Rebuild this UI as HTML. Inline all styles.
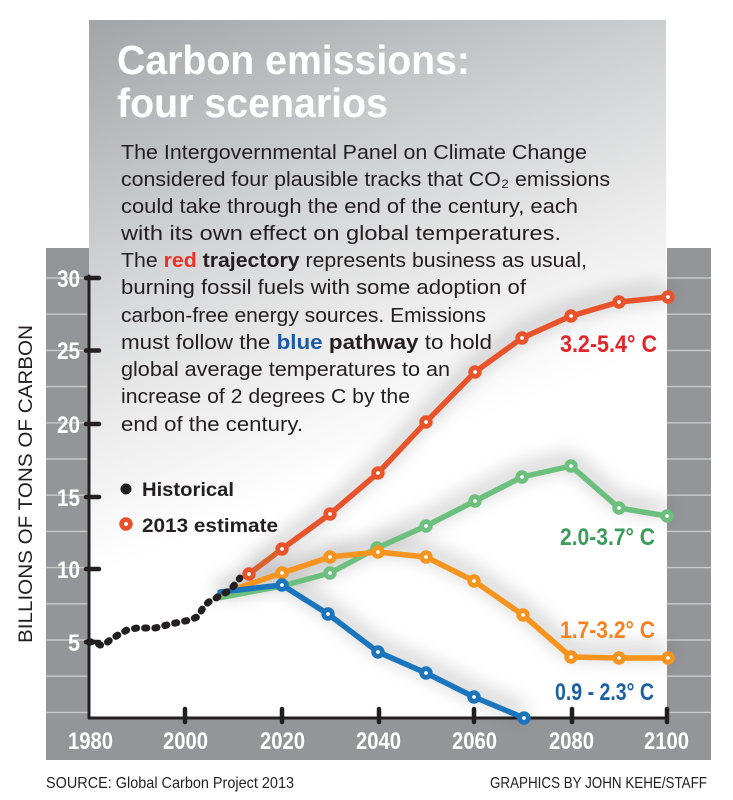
<!DOCTYPE html>
<html><head><meta charset="utf-8">
<style>
html,body{margin:0;padding:0;background:#fff;}
svg{display:block;}
text{font-family:"Liberation Sans",sans-serif;}
</style></head>
<body>
<svg width="733" height="800" viewBox="0 0 733 800" xmlns="http://www.w3.org/2000/svg">
<defs>
<linearGradient id="pg" gradientUnits="userSpaceOnUse" x1="89" y1="20" x2="330" y2="620">
<stop offset="0" stop-color="#a2a4a7"/>
<stop offset="0.35" stop-color="#cfd0d2"/>
<stop offset="0.6" stop-color="#ececec"/>
<stop offset="0.8" stop-color="#ffffff"/>
</linearGradient>
<filter id="sh" x="-30%" y="-30%" width="160%" height="160%"><feGaussianBlur stdDeviation="10"/></filter>
</defs>

<!-- frame -->
<rect x="46" y="248" width="665" height="512" fill="#939598"/>
<rect x="89" y="248" width="578" height="470" fill="#ffffff"/>
<!-- strip gridlines -->
<g stroke="#c9cacc" stroke-width="1.4">
<line x1="46" y1="278" x2="89" y2="278"/><line x1="667" y1="278" x2="711" y2="278"/>
<line x1="46" y1="314.2" x2="89" y2="314.2"/><line x1="667" y1="314.2" x2="711" y2="314.2"/>
<line x1="46" y1="350.4" x2="89" y2="350.4"/><line x1="667" y1="350.4" x2="711" y2="350.4"/>
<line x1="46" y1="386.6" x2="89" y2="386.6"/><line x1="667" y1="386.6" x2="711" y2="386.6"/>
<line x1="46" y1="422.8" x2="89" y2="422.8"/><line x1="667" y1="422.8" x2="711" y2="422.8"/>
<line x1="46" y1="459" x2="89" y2="459"/><line x1="667" y1="459" x2="711" y2="459"/>
<line x1="46" y1="495.2" x2="89" y2="495.2"/><line x1="667" y1="495.2" x2="711" y2="495.2"/>
<line x1="46" y1="531.4" x2="89" y2="531.4"/><line x1="667" y1="531.4" x2="711" y2="531.4"/>
<line x1="46" y1="567.6" x2="89" y2="567.6"/><line x1="667" y1="567.6" x2="711" y2="567.6"/>
<line x1="46" y1="603.8" x2="89" y2="603.8"/><line x1="667" y1="603.8" x2="711" y2="603.8"/>
<line x1="46" y1="640" x2="89" y2="640"/><line x1="667" y1="640" x2="711" y2="640"/>
<line x1="46" y1="676.2" x2="89" y2="676.2"/><line x1="667" y1="676.2" x2="711" y2="676.2"/>
<line x1="46" y1="712.4" x2="89" y2="712.4"/><line x1="667" y1="712.4" x2="711" y2="712.4"/>
</g>

<!-- top panel -->
<rect x="89" y="20" width="577" height="698" fill="url(#pg)"/>

<!-- shadows -->
<g filter="url(#sh)" opacity="0.28" fill="none" stroke="#000" stroke-width="10" transform="translate(0,-6)">
<polyline points="249,574 282,549 330,514 378,473 426,422 475,372 522,338 571,316 619,302 668,297"/>
<polyline points="220,594 282,573 330,557 378,552 426,557 474,581 523,615 571,657 619,658 668,658"/>
<polyline points="218,598 282,586 330,573 377,548 426,526 475,501 522,477 571,466 619,508 667,516"/>
<polyline points="220,592 282,585 328,614 378,652 426,673 474,697 524,718"/>
</g>

<!-- title -->
<text x="117" y="74" font-size="41" font-weight="bold" fill="#fff" textLength="353" lengthAdjust="spacingAndGlyphs">Carbon emissions:</text>
<text x="117" y="117" font-size="41" font-weight="bold" fill="#fff" textLength="271" lengthAdjust="spacingAndGlyphs">four scenarios</text>

<!-- body -->
<g font-size="20.5" fill="#231f20">
<text x="121" y="159" textLength="466" lengthAdjust="spacingAndGlyphs">The Intergovernmental Panel on Climate Change</text>
<text x="121" y="186" textLength="489" lengthAdjust="spacingAndGlyphs">considered four plausible tracks that CO₂ emissions</text>
<text x="121" y="213" textLength="457" lengthAdjust="spacingAndGlyphs">could take through the end of the century, each</text>
<text x="121" y="240" textLength="440" lengthAdjust="spacingAndGlyphs">with its own effect on global temperatures.</text>
<text x="121" y="267" textLength="466" lengthAdjust="spacingAndGlyphs">The <tspan font-weight="bold" fill="#ee3124">red</tspan> <tspan font-weight="bold">trajectory</tspan> represents business as usual,</text>
<text x="121" y="294" textLength="405" lengthAdjust="spacingAndGlyphs">burning fossil fuels with some adoption of</text>
<text x="121" y="322" textLength="365" lengthAdjust="spacingAndGlyphs">carbon-free energy sources. Emissions</text>
<text x="121" y="349" textLength="371" lengthAdjust="spacingAndGlyphs">must follow the <tspan font-weight="bold" fill="#1c5aa6">blue</tspan> <tspan font-weight="bold">pathway</tspan> to hold</text>
<text x="121" y="376" textLength="329" lengthAdjust="spacingAndGlyphs">global average temperatures to an</text>
<text x="121" y="403" textLength="289" lengthAdjust="spacingAndGlyphs">increase of 2 degrees C by the</text>
<text x="121" y="431" textLength="182" lengthAdjust="spacingAndGlyphs">end of the century.</text>
</g>

<!-- legend -->
<circle cx="126" cy="489" r="5.5" fill="#231f20"/>
<text x="142" y="496" font-size="19.5" font-weight="bold" fill="#231f20" textLength="92" lengthAdjust="spacingAndGlyphs">Historical</text>
<circle cx="126" cy="524" r="4.4" fill="#fff" stroke="#e8502b" stroke-width="4.6"/>
<text x="142" y="532" font-size="19.5" font-weight="bold" fill="#231f20" textLength="136" lengthAdjust="spacingAndGlyphs">2013 estimate</text>

<!-- axes -->
<g stroke="#231f20" stroke-linecap="round">
<line x1="89" y1="276" x2="89" y2="718" stroke-width="3"/>
<line x1="89" y1="718" x2="667" y2="718" stroke-width="3"/>
<g stroke-width="4.5">
<line x1="86" y1="278" x2="99" y2="278"/>
<line x1="86" y1="350.5" x2="99" y2="350.5"/>
<line x1="86" y1="424" x2="99" y2="424"/>
<line x1="86" y1="497" x2="99" y2="497"/>
<line x1="86" y1="569" x2="99" y2="569"/>
<line x1="86" y1="642" x2="99" y2="642"/>
<line x1="185" y1="709" x2="185" y2="722"/>
<line x1="282" y1="709" x2="282" y2="722"/>
<line x1="379" y1="709" x2="379" y2="722"/>
<line x1="474" y1="709" x2="474" y2="722"/>
<line x1="572" y1="709" x2="572" y2="722"/>
<line x1="667" y1="709" x2="667" y2="722"/>
</g>
</g>

<!-- y tick labels -->
<g font-size="24" font-weight="bold" fill="#fff">
<text x="57" y="287" textLength="23" lengthAdjust="spacingAndGlyphs">30</text>
<text x="57" y="359" textLength="23" lengthAdjust="spacingAndGlyphs">25</text>
<text x="57" y="433" textLength="23" lengthAdjust="spacingAndGlyphs">20</text>
<text x="57" y="506" textLength="23" lengthAdjust="spacingAndGlyphs">15</text>
<text x="57" y="578" textLength="23" lengthAdjust="spacingAndGlyphs">10</text>
<text x="68" y="651" textLength="12" lengthAdjust="spacingAndGlyphs">5</text>
</g>
<!-- x tick labels -->
<g font-size="24" font-weight="bold" fill="#fff">
<text x="68" y="749" textLength="45" lengthAdjust="spacingAndGlyphs">1980</text>
<text x="163" y="749" textLength="45" lengthAdjust="spacingAndGlyphs">2000</text>
<text x="260" y="749" textLength="45" lengthAdjust="spacingAndGlyphs">2020</text>
<text x="356" y="749" textLength="45" lengthAdjust="spacingAndGlyphs">2040</text>
<text x="452" y="749" textLength="45" lengthAdjust="spacingAndGlyphs">2060</text>
<text x="549" y="749" textLength="45" lengthAdjust="spacingAndGlyphs">2080</text>
<text x="644" y="749" textLength="45" lengthAdjust="spacingAndGlyphs">2100</text>
</g>

<!-- y axis title -->
<text transform="translate(32,484) rotate(-90)" x="0" y="0" text-anchor="middle" font-size="19" fill="#231f20" textLength="318" lengthAdjust="spacingAndGlyphs">BILLIONS OF TONS OF CARBON</text>

<!-- series lines -->
<g fill="none" stroke-width="5.5" stroke-linejoin="round" stroke-linecap="round">
<polyline stroke="#6cc07d" points="218,598 282,586 330,573 377,548 426,526 475,501 522,477 571,466 619,508 667,516"/>
<polyline stroke="#f7941e" points="220,594 282,573 330,557 378,552 426,557 474,581 523,615 571,657 619,658 668,658"/>
<polyline stroke="#1b75bc" points="220,592 282,585 328,614 378,652 426,673 474,697 524,718"/>
<polyline stroke="#e9532b" points="282,549 330,514 378,473 426,422 475,372 522,338 571,316 619,302 668,297"/>
<polyline stroke="#d9622c" points="249,574 282,549"/>
</g>

<!-- historical dots -->
<polyline fill="none" stroke="#231f20" stroke-width="7" stroke-linecap="round" stroke-dasharray="2.2 8"
points="89,642 95,642 100,645 104,645 110,640 118,635 127,630 137,628 147,628 155,628 163,626 171,624 180,622 190,620 197,617 200,613 204,606 210,601 216,598 222,594 227,592 232,588 236,583 240,578"/>

<!-- markers -->
<g fill="#fff" stroke-width="4.8">
<g stroke="#6cc07d">
<circle cx="330" cy="573" r="4.3"/><circle cx="377" cy="548" r="4.3"/><circle cx="426" cy="526" r="4.3"/><circle cx="475" cy="501" r="4.3"/><circle cx="522" cy="477" r="4.3"/><circle cx="571" cy="466" r="4.3"/><circle cx="619" cy="508" r="4.3"/><circle cx="667" cy="516" r="4.3"/>
</g>
<g stroke="#f7941e">
<circle cx="282" cy="573" r="4.3"/><circle cx="330" cy="557" r="4.3"/><circle cx="378" cy="552" r="4.3"/><circle cx="426" cy="557" r="4.3"/><circle cx="474" cy="581" r="4.3"/><circle cx="523" cy="615" r="4.3"/><circle cx="571" cy="657" r="4.3"/><circle cx="619" cy="658" r="4.3"/><circle cx="668" cy="658" r="4.3"/>
</g>
<g stroke="#1b75bc">
<circle cx="282" cy="585" r="4.3"/><circle cx="328" cy="614" r="4.3"/><circle cx="378" cy="652" r="4.3"/><circle cx="426" cy="673" r="4.3"/><circle cx="474" cy="697" r="4.3"/><circle cx="524" cy="718" r="4.3"/>
</g>
<g stroke="#e9532b">
<circle cx="249" cy="574" r="4.3"/><circle cx="282" cy="549" r="4.3"/><circle cx="330" cy="514" r="4.3"/><circle cx="378" cy="473" r="4.3"/><circle cx="426" cy="422" r="4.3"/><circle cx="475" cy="372" r="4.3"/><circle cx="522" cy="338" r="4.3"/><circle cx="571" cy="316" r="4.3"/><circle cx="619" cy="302" r="4.3"/><circle cx="668" cy="297" r="4.3"/>
</g>
</g>

<!-- scenario labels -->
<g font-size="24" font-weight="bold">
<text x="560" y="352" fill="#e2252b" textLength="97" lengthAdjust="spacingAndGlyphs">3.2-5.4° C</text>
<text x="560" y="545" fill="#3d9b5a" textLength="95" lengthAdjust="spacingAndGlyphs">2.0-3.7° C</text>
<text x="560" y="638" fill="#f58220" textLength="95" lengthAdjust="spacingAndGlyphs">1.7-3.2° C</text>
<text x="555" y="700" fill="#1d5fa5" textLength="99" lengthAdjust="spacingAndGlyphs">0.9 - 2.3° C</text>
</g>

<!-- footer -->
<text x="46" y="788" font-size="16" fill="#231f20" textLength="248" lengthAdjust="spacingAndGlyphs">SOURCE: Global Carbon Project 2013</text>
<text x="490" y="788" font-size="16" fill="#231f20" textLength="217" lengthAdjust="spacingAndGlyphs">GRAPHICS BY JOHN KEHE/STAFF</text>
</svg>
</body></html>
